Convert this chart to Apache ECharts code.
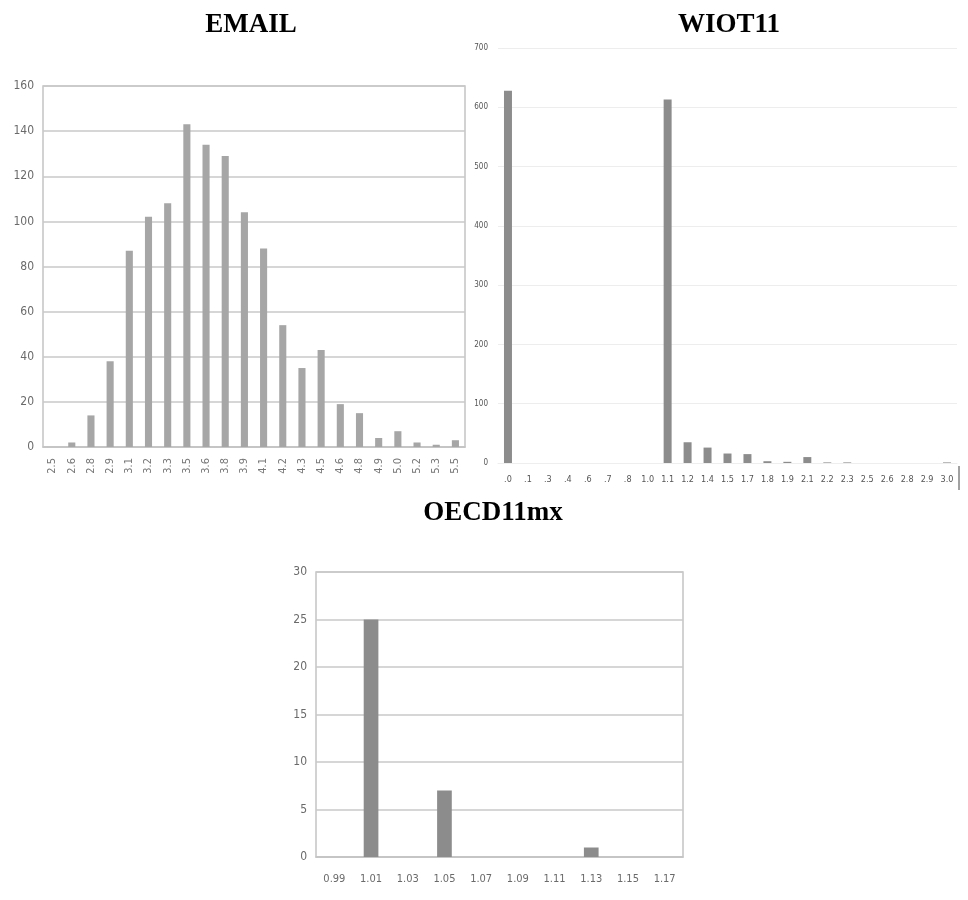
<!DOCTYPE html>
<html>
<head>
<meta charset="utf-8">
<script src="https://cdn.jsdelivr.net/npm/echarts@6/dist/echarts.min.js"></script>
<style>
html,body{margin:0;padding:0;background:#fff;}
#c{width:968px;height:900px;}
</style>
</head>
<body>
<div id="c"></div>
<script>
// EMAIL
const emailCategories = ['2.5','2.6','2.8','2.9','3.1','3.2','3.3','3.5','3.6','3.8','3.9','4.1','4.2','4.3','4.5','4.6','4.8','4.9','5.0','5.2','5.3','5.5'];
const emailValues = [0,2,14,38,87,102,108,143,134,129,104,88,54,35,43,19,15,4,7,2,1,3];
const emailYTicks = {min:0, max:160, interval:20};

// WIOT11
const wiotCategories = ['.0','.1','.3','.4','.6','.7','.8','1.0','1.1','1.2','1.4','1.5','1.7','1.8','1.9','2.1','2.2','2.3','2.5','2.6','2.8','2.9','3.0'];
const wiotValues = [628,0,0,0,0,0,0,0,613,35,26,16,15,3,2,10,1,1,0,0,0,0,1];
const wiotYTicks = {min:0, max:700, interval:100};

// OECD11mx
const oecdCategories = ['0.99','1.01','1.03','1.05','1.07','1.09','1.11','1.13','1.15','1.17'];
const oecdValues = [0,25,0,7,0,0,0,1,0,0];
const oecdYTicks = {min:0, max:30, interval:5};

const titles = ['EMAIL','WIOT11','OECD11mx'];

const narrow = "'Liberation Sans Narrow','DejaVu Sans Condensed','Liberation Sans',sans-serif";
const titleStyle = {fontFamily:"'Liberation Serif','DejaVu Serif',serif", fontWeight:'bold', fontSize:27, color:'#000'};

const chart = echarts.init(document.getElementById('c'), null, {renderer:'canvas'});
chart.setOption({
  animation:false,
  backgroundColor:'#fff',
  title:[
    {text:titles[0], left:246, top:7, textAlign:'center', textStyle:titleStyle},
    {text:titles[1], left:724, top:7, textAlign:'center', textStyle:titleStyle},
    {text:titles[2], left:488, top:495, textAlign:'center', textStyle:titleStyle}
  ],
  grid:[
    {left:43, top:86, width:422, height:361, show:true, borderColor:'#c4c4c4', borderWidth:1.5, backgroundColor:'transparent'},
    {left:498, top:48, width:459, height:415, show:false},
    {left:316, top:572, width:367, height:285, show:true, borderColor:'#c4c4c4', borderWidth:1.5, backgroundColor:'transparent'}
  ],
  xAxis:[
    {type:'category', gridIndex:0, data:emailCategories,
     axisLine:{show:true, lineStyle:{color:'#c4c4c4', width:1.5}}, axisTick:{show:false},
     axisLabel:{rotate:90, interval:0, fontSize:11, color:'#777', fontFamily:narrow, margin:11}},
    {type:'category', gridIndex:1, data:wiotCategories,
     axisLine:{show:true, lineStyle:{color:'#eeeeee', width:1}}, axisTick:{show:false},
     axisLabel:{interval:0, fontSize:9, color:'#555', fontFamily:narrow, margin:12}},
    {type:'category', gridIndex:2, data:oecdCategories,
     axisLine:{show:true, lineStyle:{color:'#c4c4c4', width:1.5}}, axisTick:{show:false},
     axisLabel:{interval:0, fontSize:11, color:'#6a6a6a', fontFamily:narrow, margin:17}}
  ],
  yAxis:[
    {type:'value', gridIndex:0, min:emailYTicks.min, max:emailYTicks.max, interval:emailYTicks.interval,
     axisLine:{show:false}, axisTick:{show:false},
     axisLabel:{fontSize:12, color:'#6a6a6a', fontFamily:narrow, margin:9},
     splitLine:{lineStyle:{color:'#c8c8c8', width:1.5}}},
    {type:'value', gridIndex:1, min:wiotYTicks.min, max:wiotYTicks.max, interval:wiotYTicks.interval,
     axisLine:{show:false}, axisTick:{show:false},
     axisLabel:{fontSize:8, color:'#555', fontFamily:narrow, margin:10},
     splitLine:{lineStyle:{color:'#ededed', width:1}}},
    {type:'value', gridIndex:2, min:oecdYTicks.min, max:oecdYTicks.max, interval:oecdYTicks.interval,
     axisLine:{show:false}, axisTick:{show:false},
     axisLabel:{fontSize:12, color:'#6a6a6a', fontFamily:narrow, margin:9},
     splitLine:{lineStyle:{color:'#c8c8c8', width:1.5}}}
  ],
  series:[
    {type:'bar', xAxisIndex:0, yAxisIndex:0, data:emailValues, barWidth:'37%', itemStyle:{color:'#a6a6a6'}},
    {type:'bar', xAxisIndex:1, yAxisIndex:1, data:wiotValues, barWidth:'40%', itemStyle:{color:'#8c8c8c'}},
    {type:'bar', xAxisIndex:2, yAxisIndex:2, data:oecdValues, barWidth:'40%', itemStyle:{color:'#8c8c8c'}}
  ],
  graphic:[
    {type:'line', shape:{x1:959, y1:466, x2:959, y2:490}, style:{stroke:'#444', lineWidth:1}}
  ]
});
</script>
</body>
</html>
